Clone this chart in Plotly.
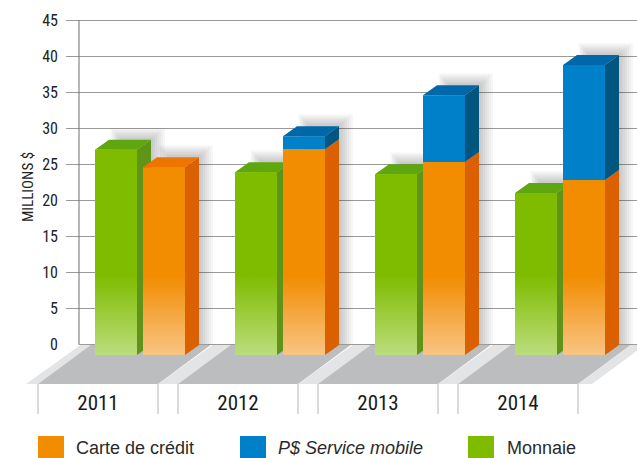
import plotly.graph_objects as go

years = ["2011", "2012", "2013", "2014"]
monnaie = [27.0, 23.9, 23.6, 21.0]
carte = [24.6, 27.1, 25.3, 22.8]
service = [0.0, 1.8, 9.3, 16.0]
y_ticks = [0, 5, 10, 15, 20, 25, 30, 35, 40, 45]

W, H = 637, 458
L, B = 66, 73
PX_X = 140.0          # pixels per category
PX_Y = 7.19           # pixels per value unit
ZERO_PX = 344.0
X0_PX = 140.0
FONT = "Roboto Condensed, Liberation Sans, Arial, sans-serif"


def xu(px):
    return (px - X0_PX) / PX_X


def yu(py):
    return (ZERO_PX - py) / PX_Y


def paper_x(px):
    return (px - L) / (W - L)


def paper_y(py):
    return ((H - B) - py) / (H - B)


def paper_path(points):
    return "M" + " L".join(f"{paper_x(a)},{paper_y(b)}" for a, b in points) + " Z"


BAR_W = 42 / PX_X
DX = 14 / PX_X
DY = 10 / PX_Y
BASE = -11 / PX_Y
GREEN_OFF = -45 / PX_X
ORANGE_OFF = 3 / PX_X

fig = go.Figure()
shapes = []

# floor
for i in range(4):
    fx0 = 38 + 140 * i
    strip0 = fx0 - (12 if i == 0 else 20)
    skew = 54
    shapes.append(dict(type="path", layer="between", xref="paper", yref="paper", line_width=0, fillcolor="#E3E4E6",
                       path=paper_path([(strip0, 384), (fx0, 384), (fx0 + skew, 344), (strip0 + skew + 2, 344)])))
    shapes.append(dict(type="path", layer="between", xref="paper", yref="paper", line_width=0, fillcolor="#BCBDBF",
                       path=paper_path([(fx0, 384), (fx0 + 120, 384), (fx0 + 120 + skew, 344), (fx0 + skew, 344)])))
    for px in (fx0, fx0 + 120):
        shapes.append(dict(type="line", xref="paper", yref="paper", x0=paper_x(px), x1=paper_x(px),
                           y0=paper_y(384), y1=paper_y(414), line=dict(color="#B5B5B5", width=1)))
shapes.append(dict(type="path", layer="between", xref="paper", yref="paper", line_width=0, fillcolor="#E3E4E6",
                   path=paper_path([(578, 384), (592, 384), (646, 344), (632, 344)])))
# back wall line and cover for the tick stub at zero
shapes.append(dict(type="rect", layer="between", xref="x", yref="y", x0=xu(66), x1=xu(78.5), y0=-0.25, y1=0.25,
                   fillcolor="white", line_width=0))
shapes.append(dict(type="line", layer="between", xref="x", yref="y", x0=xu(79), x1=xu(79), y0=0, y1=45,
                   line=dict(color="#6E6E6E", width=1)))

# soft shadows
tops = [c + s for c, s in zip(carte, service)]
for i in range(4):
    for off, top in ((GREEN_OFF, monnaie[i]), (ORANGE_OFF, tops[i])):
        xa = i + off + DX
        xb = i + off + BAR_W + DX
        for k in range(1, 8):
            gx = k * 2.0 / PX_X
            gy = k * 1.7 / PX_Y
            shapes.append(dict(type="rect", layer="between", xref="x", yref="y",
                               x0=xa + (12 - k * 1.5) / PX_X, x1=xb + gx,
                               y0=0, y1=top + DY + gy, fillcolor="rgba(60,60,60,0.04)", line_width=0))

xs = list(range(4))
fig.add_trace(go.Bar(x=xs, y=[v - BASE for v in monnaie], base=BASE, offset=GREEN_OFF, width=BAR_W,
                     marker=dict(color="#7FBC00", line_width=0), name="Monnaie"))
fig.add_trace(go.Bar(x=xs, y=[v - BASE for v in carte], base=BASE, offset=ORANGE_OFF, width=BAR_W,
                     marker=dict(color="#F28C00", line_width=0), name="Carte de crédit"))
fig.add_trace(go.Bar(x=xs, y=service, base=carte, offset=ORANGE_OFF, width=BAR_W,
                     marker=dict(color="#0080C9", line_width=0), name="P$ Service mobile"))


def poly(px, py, color=None, gradient=None):
    kw = dict(fillgradient=gradient) if gradient else dict(fillcolor=color)
    fig.add_trace(go.Scatter(x=px + px[:1], y=py + py[:1], mode="lines", fill="toself",
                             line=dict(width=0), hoverinfo="skip", showlegend=False, **kw))


def grad(light, solid):
    return dict(type="vertical", colorscale=[[0, light], [1, solid]], start=BASE, stop=9.5)


def top_face(x, v, color):
    poly([x, x + BAR_W, x + BAR_W + DX, x + DX], [v, v, v + DY, v + DY], color)


def side_face(x, v0, v1, color):
    xr = x + BAR_W
    poly([xr, xr + DX, xr + DX, xr], [v0, v0 + DY, v1 + DY, v1], color)


for i in range(4):
    xg = i + GREEN_OFF
    xo = i + ORANGE_OFF
    side_face(xg, BASE, monnaie[i], "#5F9419")
    top_face(xg, monnaie[i], "#5FA70E")
    poly([xg, xg + BAR_W, xg + BAR_W, xg], [BASE, BASE, monnaie[i], monnaie[i]],
         gradient=grad("#BBDD7C", "#7FBC00"))
    poly([xo, xo + BAR_W, xo + BAR_W, xo], [BASE, BASE, carte[i], carte[i]],
         gradient=grad("#F9C484", "#F28C00"))
    side_face(xo, BASE, carte[i], "#DB6000")
    if service[i] > 0:
        side_face(xo, carte[i], tops[i], "#00567F")
        top_face(xo, tops[i], "#0068A8")
    else:
        top_face(xo, carte[i], "#EE7600")

annotations = [
    dict(text="MILLIONS $", textangle=-90, xref="paper", yref="paper", x=paper_x(17), y=paper_y(187),
         showarrow=False, font=dict(family=FONT, size=15, color="#222222")),
]
legend_items = [
    (38, 74, "Carte de crédit", "#F28C00"),
    (240, 276, "<i>P$ Service mobile</i>", "#0080C9"),
    (468, 505, "Monnaie", "#7FBC00"),
]
for sx, tx, label, color in legend_items:
    shapes.append(dict(type="rect", xref="paper", yref="paper", x0=paper_x(sx), x1=paper_x(sx + 26),
                       y0=paper_y(436), y1=paper_y(460), fillcolor=color, line_width=0))
    annotations.append(dict(text=label, xref="paper", yref="paper", x=paper_x(tx), y=paper_y(448),
                            xanchor="left", yanchor="middle", showarrow=False,
                            font=dict(family="Liberation Sans", size=18, color="#2A2A2A")))

fig.update_layout(
    width=W, height=H, margin=dict(l=L, r=0, t=0, b=B, pad=0),
    paper_bgcolor="white", plot_bgcolor="white", showlegend=False, barmode="overlay",
    shapes=shapes, annotations=annotations,
    xaxis=dict(range=[xu(66), xu(637)], tickmode="array", tickvals=[i - 0.3 for i in xs], ticktext=years,
               showgrid=False, zeroline=False, showline=False, ticks="", ticklabelstandoff=3,
               tickfont=dict(family=FONT, size=21, color="#1A1A1A")),
    yaxis=dict(range=[yu(385), yu(0)], tickmode="array", tickvals=y_ticks, ticktext=[str(v) for v in y_ticks],
               showgrid=True, gridcolor="#9A9A9A", gridwidth=1, zeroline=False, showline=False, ticks="",
               ticklabelstandoff=7, tickfont=dict(family=FONT, size=16, color="#222222")),
)

fig.write_html("out.html", config=dict(displayModeBar=False), post_script="document.body.style.margin='0';")
